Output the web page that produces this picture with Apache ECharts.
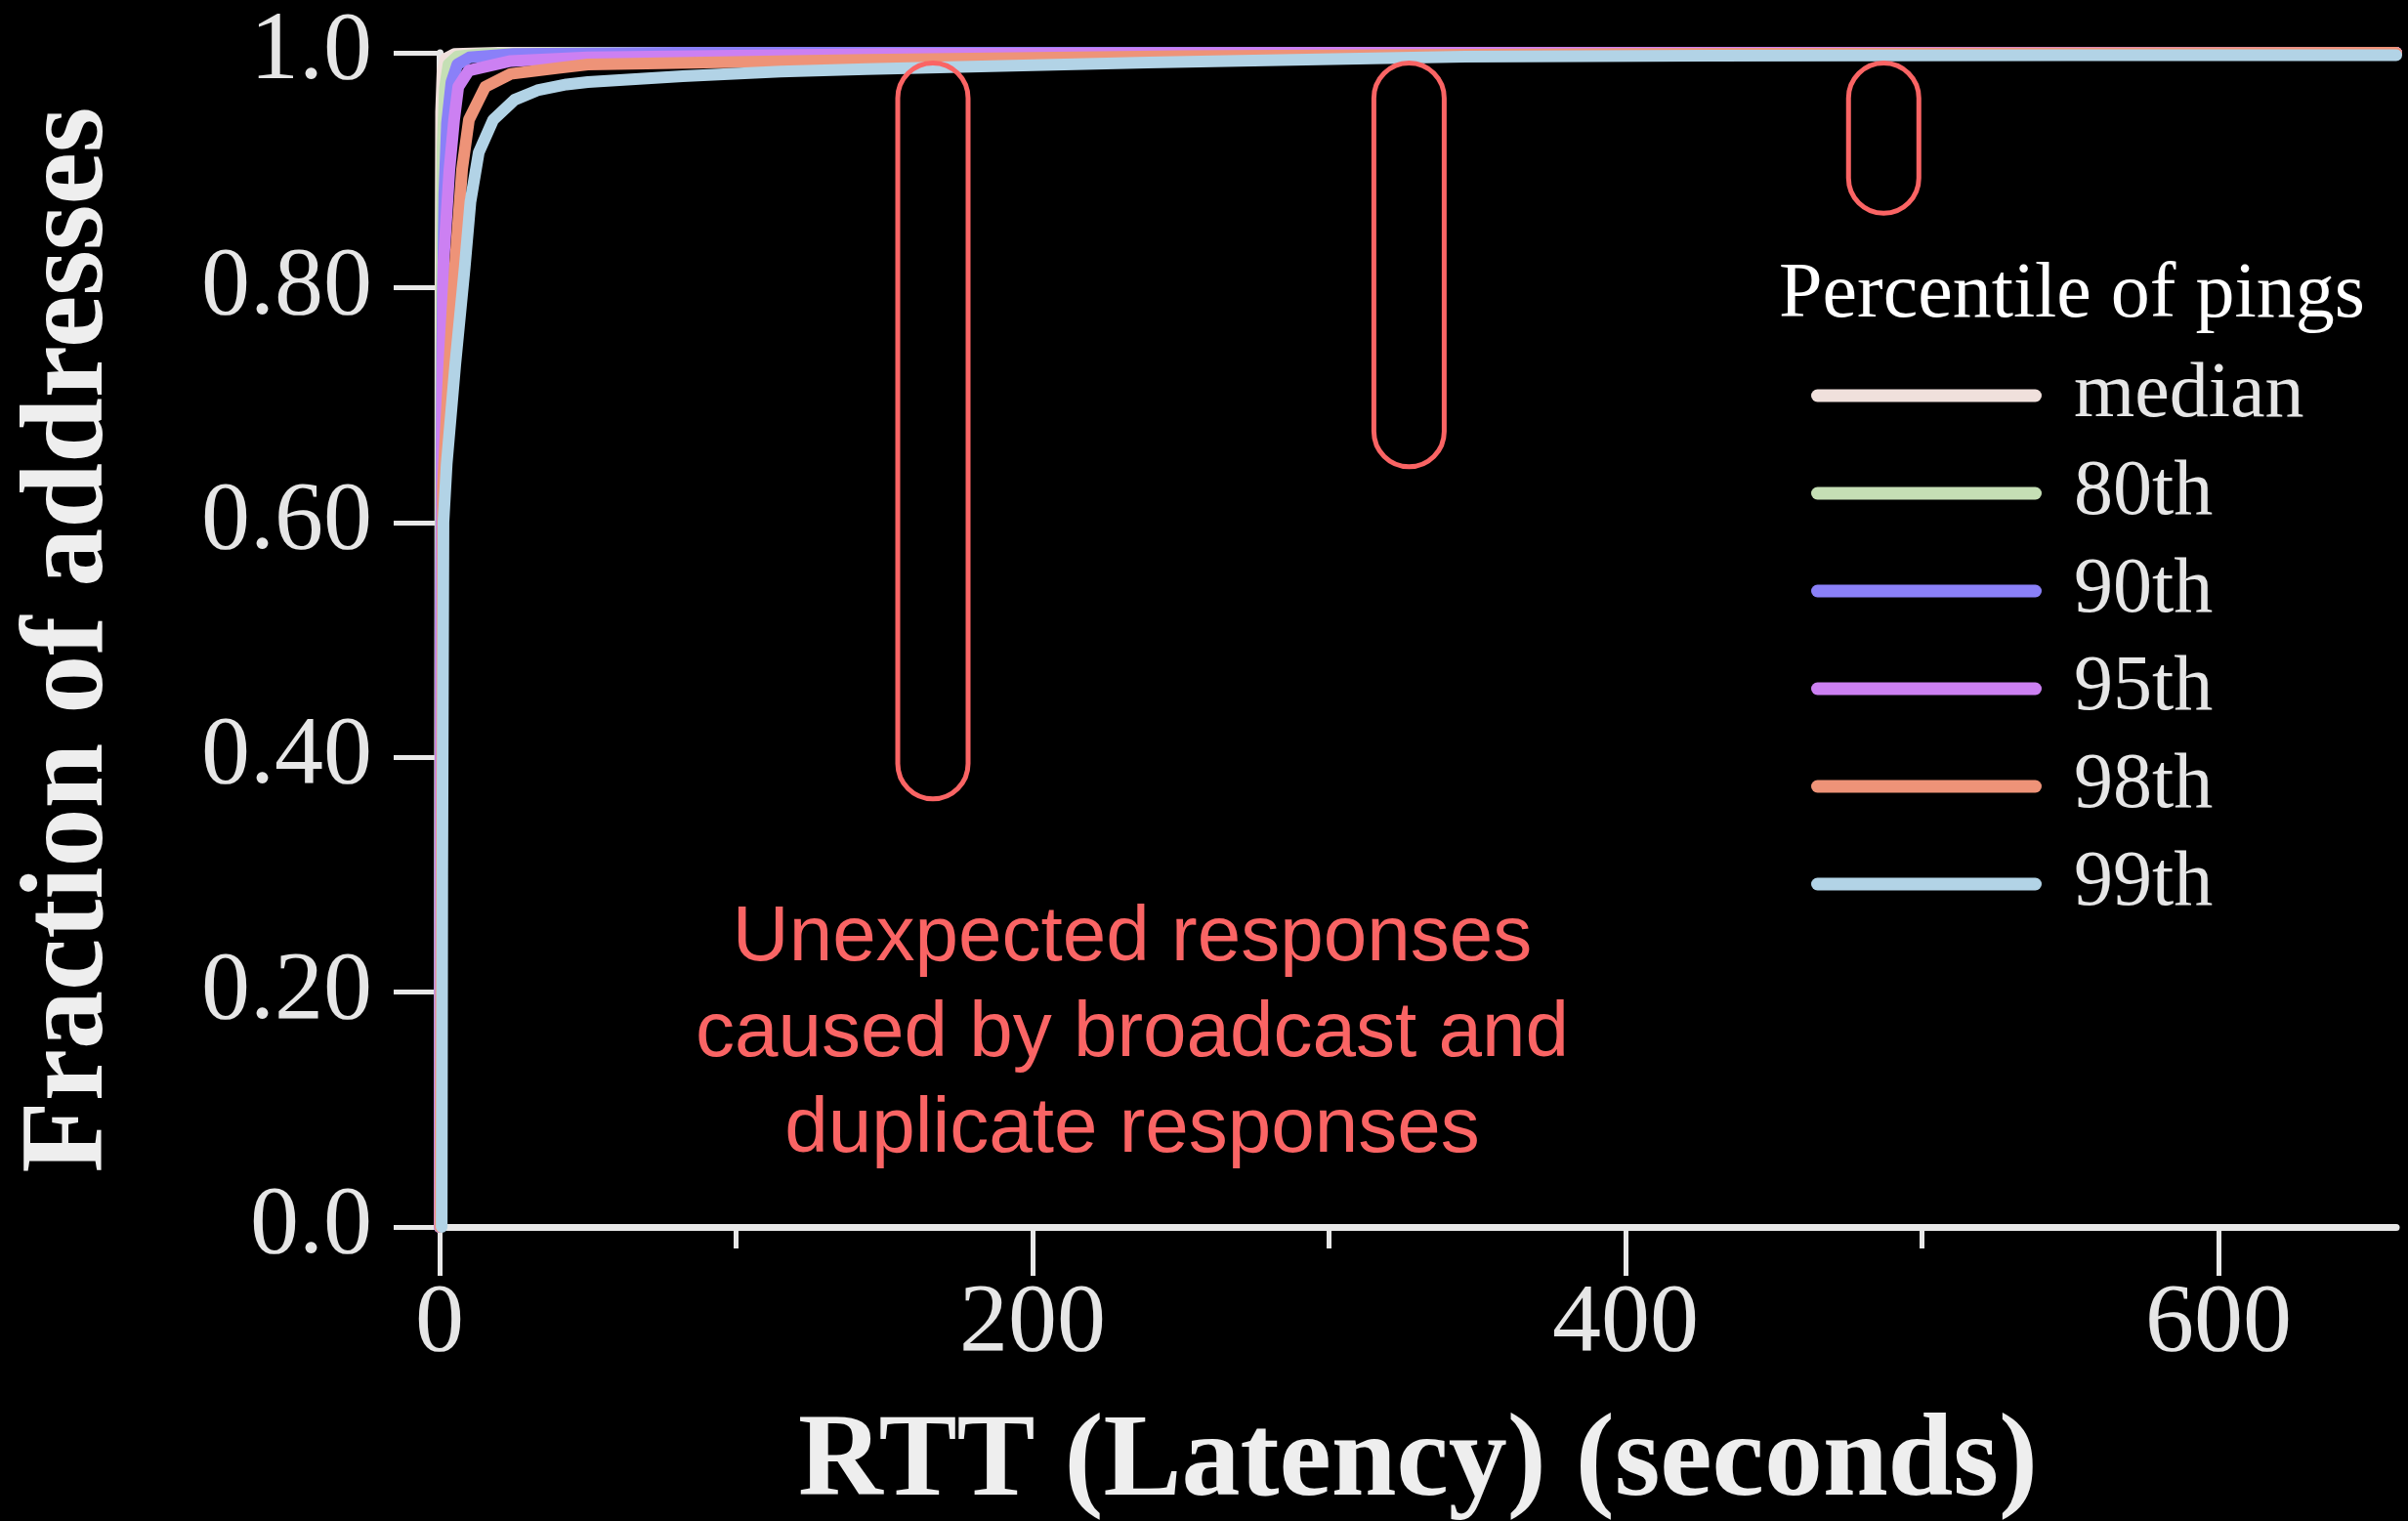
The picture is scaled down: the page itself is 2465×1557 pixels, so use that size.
<!DOCTYPE html>
<html>
<head>
<meta charset="utf-8">
<title>RTT CDF by percentile of pings</title>
<script src="https://cdn.jsdelivr.net/npm/echarts@6/dist/echarts.min.js"></script>
<style>
  html, body { margin: 0; padding: 0; background: #000; }
  #chart { width: 2465px; height: 1557px; }
</style>
</head>
<body>
<div id="chart"></div>
<script>
// Percentile series: each is a CDF of [RTT seconds, fraction of addresses]
const percentileNames = ['median', '80th', '90th', '95th', '98th', '99th'];

const medianCdf = [[0, 0], [0.2, 0.5], [0.3, 0.8], [0.5, 0.95], [1, 0.985], [2, 0.995], [5, 0.999], [20, 1], [660, 1]];
const p80Cdf = [[0, 0], [0.3, 0.5], [0.6, 0.8], [1, 0.92], [1.8, 0.97], [3, 0.99], [6, 0.997], [15, 0.999], [50, 1], [660, 1]];
const p90Cdf = [[0, 0], [0.4, 0.5], [0.9, 0.75], [1.6, 0.88], [2.5, 0.94], [4, 0.975], [6, 0.99], [10, 0.996], [25, 0.999], [80, 1], [660, 1]];
const p95Cdf = [[0, 0], [0.5, 0.5], [0.9, 0.7], [1.3, 0.82], [3.3, 0.9], [4.9, 0.943], [6.3, 0.971], [9.9, 0.985], [24, 0.993], [50, 0.996], [150, 0.999], [300, 1], [660, 1]];
const p98Cdf = [[0.2, 0], [0.8, 0.4], [1.1, 0.63], [3.3, 0.735], [5.2, 0.818], [7.6, 0.901], [9.9, 0.943], [15.4, 0.971], [24, 0.982], [40, 0.987], [50, 0.99], [144, 0.994], [250, 0.997], [400, 0.999], [660, 1]];
const p99Cdf = [[0.7, 0], [0.9, 0.3], [1.3, 0.6], [2.4, 0.65], [5.3, 0.735], [8.5, 0.818], [10.4, 0.873], [13.2, 0.915], [18.1, 0.943], [25.3, 0.96], [33, 0.968], [42.8, 0.973], [50, 0.975], [82, 0.98], [115, 0.984], [144, 0.986], [239, 0.9917], [346, 0.9967], [428, 0.9975], [550, 0.998], [660, 0.998]];

const percentileData = [medianCdf, p80Cdf, p90Cdf, p95Cdf, p98Cdf, p99Cdf];

// Axis ticks
const xMajorTicks = [0, 200, 400, 600];
const xMinorTicks = [100, 300, 500];
const yTickLabels = ['0.0', '0.20', '0.40', '0.60', '0.80', '1.0'];

// Highlighted regions: [RTT centre, lower fraction, upper fraction]
const callouts = [[166.4, 0.3645, 0.9913], [327.0, 0.6475, 0.9913], [487.1, 0.8634, 0.9913]];
const calloutNote = 'Unexpected responses\ncaused by broadcast and\nduplicate responses';

// Styling
const seriesColors = ['#f0e0dc', '#c5dfb5', '#8a80f8', '#cc80f2', '#ee9378', '#b2d3e6'];
const axisColor = '#e8e8e8';
const labelColor = '#e6e6e6';
const noteColor = '#fa6464';
const serif = '"Liberation Serif", "Times New Roman", serif';

const chart = echarts.init(document.getElementById('chart'), null, { renderer: 'canvas' });

const lineSeries = percentileData.map((data, i) => ({
  type: 'line',
  name: percentileNames[i],
  data: data,
  xAxisIndex: 0,
  yAxisIndex: 0,
  symbol: 'none',
  showSymbol: false,
  color: seriesColors[i],
  lineStyle: { width: 12, cap: 'round', join: 'round' },
  emphasis: { disabled: true },
  silent: true
}));

const calloutSeries = {
  type: 'custom',
  name: 'callouts',
  coordinateSystem: 'cartesian2d',
  xAxisIndex: 0,
  yAxisIndex: 0,
  data: callouts,
  clip: false,
  silent: true,
  z: 5,
  encode: { x: 0, y: [1, 2] },
  renderItem: function (params, api) {
    const top = api.coord([api.value(0), api.value(2)]);
    const bottom = api.coord([api.value(0), api.value(1)]);
    const w = 72;
    return {
      type: 'rect',
      shape: { x: top[0] - w / 2, y: top[1], width: w, height: bottom[1] - top[1], r: w / 2 },
      style: { fill: 'none', stroke: noteColor, lineWidth: 5 }
    };
  }
};

const option = {
  backgroundColor: '#000',
  animation: false,
  title: {
    text: 'Percentile of pings',
    left: 1821,
    top: 263,
    padding: 0,
    textStyle: { color: '#ffffff', fontFamily: serif, fontSize: 80, fontWeight: 'normal' }
  },
  legend: {
    orient: 'vertical',
    left: 1854,
    top: 365,
    padding: 0,
    itemGap: 20,
    itemWidth: 236,
    itemHeight: 13,
    icon: 'path://M6.5,0H229.5A6.5,6.5,0,0,1,229.5,13H6.5A6.5,6.5,0,0,1,6.5,0Z',
    selectedMode: false,
    data: percentileNames,
    textStyle: { color: labelColor, fontFamily: serif, fontSize: 80, lineHeight: 80, padding: [0, 0, 0, 28] }
  },
  grid: {
    left: 450,
    top: 54,
    right: 12,
    bottom: 301,
    containLabel: false,
    outerBoundsMode: 'none'
  },
  xAxis: [
    {
      type: 'value',
      min: 0,
      max: 660,
      interval: 200,
      position: 'bottom',
      axisLine: { show: true, onZero: false, lineStyle: { color: axisColor, width: 7 } },
      axisTick: { show: true, length: 50, customValues: xMajorTicks, lineStyle: { color: axisColor, width: 5 } },
      axisLabel: { customValues: xMajorTicks, margin: 50, color: labelColor, fontFamily: serif, fontSize: 100 },
      splitLine: { show: false },
      name: 'RTT (Latency) (seconds)',
      nameLocation: 'middle',
      nameGap: 183,
      nameMoveOverlap: false,
      nameTextStyle: { color: '#eeeeee', fontFamily: serif, fontWeight: 'bold', fontSize: 120 }
    },
    {
      type: 'value',
      min: 0,
      max: 660,
      position: 'bottom',
      axisLine: { show: false },
      axisTick: { show: true, length: 22, customValues: xMinorTicks, lineStyle: { color: axisColor, width: 5 } },
      axisLabel: { show: false },
      splitLine: { show: false }
    }
  ],
  yAxis: {
    type: 'value',
    min: 0,
    max: 1,
    interval: 0.2,
    axisLine: { show: true, onZero: false, lineStyle: { color: axisColor, width: 7 } },
    axisTick: { show: true, length: 47, lineStyle: { color: axisColor, width: 5 } },
    axisLabel: {
      margin: 69,
      color: labelColor,
      fontFamily: serif,
      fontSize: 100,
      formatter: function (v) { return yTickLabels[Math.round(v / 0.2)]; }
    },
    splitLine: { show: false },
    name: 'Fraction of addresses',
    nameLocation: 'middle',
    nameGap: 317,
    nameRotate: 90,
    nameMoveOverlap: false,
    nameTextStyle: { color: '#eeeeee', fontFamily: serif, fontWeight: 'bold', fontSize: 120 }
  },
  graphic: [
    {
      type: 'text',
      x: 1159,
      y: 912,
      silent: true,
      style: {
        text: calloutNote,
        fill: noteColor,
        fontFamily: '"Liberation Sans", Arial, sans-serif',
        fontSize: 80,
        lineHeight: 98,
        align: 'center',
        verticalAlign: 'top'
      }
    }
  ],
  series: lineSeries.concat([calloutSeries])
};

chart.setOption(option);
</script>
</body>
</html>
